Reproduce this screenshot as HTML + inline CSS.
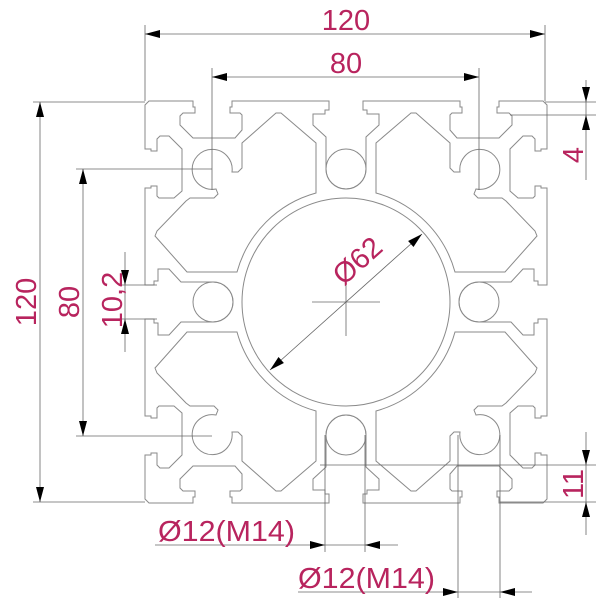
<!DOCTYPE html>
<html><head><meta charset="utf-8"><style>
html,body{margin:0;padding:0;background:#fff;}
svg{display:block;}
text{font-family:"Liberation Sans",sans-serif;fill:#b8245e;}
</style></head><body>
<svg width="600" height="600" viewBox="0 0 600 600" xmlns="http://www.w3.org/2000/svg">
<defs>
<g id="q">
<path d="M346,189 A20,20 0 0 1 326,169 L326,137 L313,125 L313,114 L325,114 L325,110 L329,110 L329,101 L232,101 L232,107 L230,107 L230,113 L240,113 L242,115 L242,130 L235,138 L193,138 L180,125 L180,116 L183,113 L195,113 L195,107 L193,107 L193,101 L149,101 L145,105 L145,149 L151,149 L151,151 L157,151 L157,139 L160,136 L169,136 L182,149 L182,191 L174,198 L159,198 L157,196 L157,186 L151,186 L151,188 L145,188 L145,285 L154,285 L154,281 L158,281 L158,269 L169,269 L181,282 L213,282 A20,20 0 0 1 233,302"/>
<path d="M155,236 L157,231 L186,201 L190,198 L214,198 L218,194 L216,189 A20,20 0 1 1 232,172 L238,172 L242,168 L242,143 L276,113 L281,113 L316,143 L316,193 A113,113 0 0 0 237,272 L187,272 Z"/>
</g>
</defs>
<g fill="none" stroke="#8a8a8a" stroke-width="1">
<use href="#q"/>
<use href="#q" transform="translate(692,0) scale(-1,1)"/>
<use href="#q" transform="translate(0,604) scale(1,-1)"/>
<use href="#q" transform="translate(692,604) scale(-1,-1)"/>
<circle cx="346" cy="302" r="104"/>
<circle cx="346" cy="169" r="20"/>
<circle cx="346" cy="435" r="20"/>
<circle cx="213" cy="302" r="20"/>
<circle cx="479" cy="302" r="20"/>
</g>
<g stroke="#666" stroke-width="0.8" fill="none">
<!-- crosshair -->
<line x1="312" y1="302" x2="380" y2="302"/>
<line x1="346" y1="262" x2="346" y2="336"/>
<line x1="270" y1="370" x2="422" y2="234"/>
<!-- top dims -->
<line x1="145" y1="34" x2="545" y2="34"/>
<line x1="145" y1="25" x2="145" y2="101"/>
<line x1="545" y1="25" x2="545" y2="101"/>
<line x1="212" y1="77" x2="479" y2="77"/>
<line x1="212" y1="68" x2="212" y2="190"/>
<line x1="479" y1="68" x2="479" y2="190"/>
<!-- left dims -->
<line x1="40" y1="102" x2="40" y2="502"/>
<line x1="33" y1="102" x2="145" y2="102"/>
<line x1="33" y1="502" x2="145" y2="502"/>
<line x1="83" y1="169" x2="83" y2="436"/>
<line x1="76" y1="169" x2="212" y2="169"/>
<line x1="76" y1="436" x2="212" y2="436"/>
<line x1="125" y1="252" x2="125" y2="352"/>
<line x1="120" y1="285" x2="157" y2="285"/>
<line x1="120" y1="319" x2="157" y2="319"/>
<!-- right dims -->
<line x1="586" y1="80" x2="586" y2="180"/>
<line x1="545" y1="102" x2="596" y2="102"/>
<line x1="510" y1="115" x2="596" y2="115"/>
<line x1="586" y1="432" x2="586" y2="535"/>
<line x1="320" y1="465" x2="596" y2="465"/>
<line x1="500" y1="502" x2="596" y2="502"/>
<!-- bottom dims -->
<line x1="155" y1="545" x2="398" y2="545"/>
<line x1="325" y1="435" x2="325" y2="552"/>
<line x1="365" y1="435" x2="365" y2="552"/>
<line x1="298" y1="592" x2="532" y2="592"/>
<line x1="458" y1="435" x2="458" y2="598"/>
<line x1="500" y1="435" x2="500" y2="598"/>
</g>
<g fill="#000">
<polygon points="145,34 160,30 160,38"/>
<polygon points="545,34 530,30 530,38"/>
<polygon points="212,77 227,73 227,81"/>
<polygon points="479,77 464,73 464,81"/>
<polygon points="40,102 36,117 44,117"/>
<polygon points="40,502 36,487 44,487"/>
<polygon points="83,169 79,184 87,184"/>
<polygon points="83,436 79,421 87,421"/>
<polygon points="125,285 121,270 129,270"/>
<polygon points="125,319 121,334 129,334"/>
<polygon points="586,102 582,87 590,87"/>
<polygon points="586,115 582,130 590,130"/>
<polygon points="586,465 582,450 590,450"/>
<polygon points="586,502 582,517 590,517"/>
<polygon points="325,545 310,541 310,549"/>
<polygon points="365,545 380,541 380,549"/>
<polygon points="458,592 443,588 443,596"/>
<polygon points="500,592 515,588 515,596"/>
<polygon points="422,234 413.5,247 408.1,241"/>
<polygon points="270,370 283.9,363 278.5,357"/>
</g>
<g font-size="29">
<text x="346" y="30" text-anchor="middle">120</text>
<text x="346" y="73" text-anchor="middle">80</text>
<text transform="translate(36,302) rotate(-90)" text-anchor="middle">120</text>
<text transform="translate(79,302) rotate(-90)" text-anchor="middle">80</text>
<text transform="translate(122,300) rotate(-90)" text-anchor="middle">10,2</text>
<text transform="translate(583,155) rotate(-90)" text-anchor="middle">4</text>
<text transform="translate(583,484) rotate(-90)" text-anchor="middle">11</text>
<text transform="translate(364,268) rotate(-42)" text-anchor="middle">Ø62</text>
<text x="158" y="541" textLength="137" lengthAdjust="spacingAndGlyphs">Ø12(M14)</text>
<text x="298" y="588" textLength="137" lengthAdjust="spacingAndGlyphs">Ø12(M14)</text>
</g>
</svg>
</body></html>
